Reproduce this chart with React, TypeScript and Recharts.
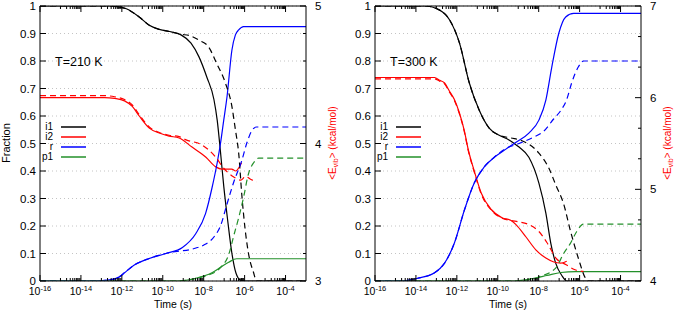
import React from 'react';
import { LineChart, Line, XAxis, YAxis, CartesianGrid, Legend, Customized } from 'recharts';

type P = [number, number];

const FONT = '"Liberation Sans", Arial, Helvetica, sans-serif';

// x values are log10(time / s)
const timeDomain: [number, number] = [-16, -3];
const timeMajorTicks = [-16, -14, -12, -10, -8, -6, -4];
const timeMinorMultipliers = [1, 2, 3, 4, 5, 6, 7, 8, 9];
const fractionTicks = [0, 0.1, 0.2, 0.3, 0.4, 0.5, 0.6, 0.7, 0.8, 0.9, 1];
const energyTicks210 = [3, 3.2, 3.4, 3.6, 3.8, 4, 4.2, 4.4, 4.6, 4.8, 5];
const energyTicks300 = [4, 4.3333, 4.6667, 5, 5.3333, 5.6667, 6, 6.3333, 6.6667, 7];
const seriesNames = ['i1', 'i2', 'r', 'p1'];
const seriesColors = ['#000000', '#ff0000', '#0000ff', '#23902a'];

// ---------- T = 210 K ----------
const i1Solid210: P[] = [[-16, 1], [-12.6, 1], [-12.26, 0.998], [-11.78, 0.99], [-11.15, 0.96], [-10.66, 0.93], [-10.17, 0.915], [-9.54, 0.905], [-9.11, 0.895], [-8.62, 0.865], [-8.23, 0.815], [-7.84, 0.74], [-7.5, 0.66], [-7.34, 0.585], [-7.18, 0.47], [-7.02, 0.345], [-6.83, 0.222], [-6.62, 0.1], [-6.42, 0.028], [-6.2, 0.003], [-6.0, 0], [-3, 0]];
const i1Dash210: P[] = [[-16, 1], [-12.6, 1], [-12.26, 0.998], [-11.78, 0.99], [-11.15, 0.96], [-10.66, 0.93], [-10.17, 0.915], [-9.54, 0.905], [-9.11, 0.897], [-8.72, 0.893], [-8.23, 0.876], [-7.75, 0.85], [-7.36, 0.79], [-6.94, 0.72], [-6.62, 0.634], [-6.45, 0.55], [-6.29, 0.465], [-6.13, 0.307], [-5.97, 0.185], [-5.81, 0.1], [-5.56, 0.03], [-5.42, 0], [-3, 0]];
const rSolid210: P[] = [[-16, 0], [-13.3, 0], [-12.6, 0.004], [-12.12, 0.015], [-11.87, 0.03], [-11.39, 0.058], [-10.66, 0.082], [-9.85, 0.1], [-9.04, 0.122], [-8.39, 0.172], [-7.91, 0.245], [-7.59, 0.34], [-7.34, 0.43], [-7.18, 0.5], [-7.02, 0.585], [-6.86, 0.67], [-6.62, 0.84], [-6.45, 0.895], [-6.29, 0.913], [-6.05, 0.925], [-3, 0.925]];
const rDash210: P[] = [[-16, 0], [-13.3, 0], [-12.6, 0.004], [-12.12, 0.015], [-11.87, 0.03], [-11.39, 0.058], [-10.66, 0.082], [-9.85, 0.1], [-9.3, 0.108], [-8.72, 0.113], [-8.38, 0.12], [-7.99, 0.131], [-7.5, 0.16], [-7.18, 0.2], [-6.86, 0.28], [-6.53, 0.36], [-6.13, 0.44], [-5.9, 0.5], [-5.66, 0.545], [-5.42, 0.56], [-3, 0.56]];
const p1Solid210: P[] = [[-16, 0], [-9.3, 0], [-8.38, 0.01], [-7.6, 0.03], [-7.17, 0.05], [-6.78, 0.068], [-6.39, 0.081], [-3, 0.081]];
const p1Dash210: P[] = [[-16, 0], [-9.3, 0], [-8.23, 0.012], [-7.75, 0.022], [-7.17, 0.05], [-6.78, 0.095], [-6.53, 0.165], [-6.29, 0.23], [-6.05, 0.305], [-5.81, 0.39], [-5.56, 0.43], [-5.32, 0.447], [-3, 0.447]];
const eSolid210: P[] = [[-16, 4.334], [-12.84, 4.334], [-12.36, 4.328], [-11.87, 4.31], [-11.49, 4.27], [-11.15, 4.2], [-10.66, 4.112], [-10.17, 4.076], [-9.69, 4.054], [-9.2, 4.04], [-8.57, 3.974], [-7.89, 3.9], [-7.41, 3.83], [-7.12, 3.814], [-6.63, 3.814], [-6.44, 3.8], [-6.15, 3.86]];
const eDash210: P[] = [[-16, 4.348], [-12.84, 4.348], [-12.36, 4.34], [-11.87, 4.32], [-11.49, 4.28], [-11.15, 4.21], [-10.66, 4.12], [-10.17, 4.08], [-9.69, 4.06], [-9.2, 4.05], [-8.86, 4.026], [-8.09, 3.99], [-7.41, 3.9], [-7.02, 3.82], [-6.53, 3.756], [-6.19, 3.734], [-5.95, 3.76], [-5.71, 3.74], [-5.42, 3.72]];

// ---------- T = 300 K ----------
const i1Solid300: P[] = [[-16, 1], [-13.57, 1], [-12.84, 0.985], [-12.36, 0.95], [-11.87, 0.865], [-11.39, 0.72], [-10.9, 0.62], [-10.42, 0.556], [-9.93, 0.53], [-9.45, 0.513], [-9.2, 0.5], [-8.96, 0.487], [-8.48, 0.45], [-7.99, 0.356], [-7.65, 0.247], [-7.41, 0.138], [-7.17, 0.065], [-6.87, 0.02], [-6.63, 0], [-3, 0]];
const i1Dash300: P[] = [[-16, 1], [-13.57, 1], [-12.84, 0.985], [-12.36, 0.95], [-11.87, 0.865], [-11.39, 0.72], [-10.9, 0.62], [-10.42, 0.556], [-9.93, 0.53], [-9.35, 0.52], [-8.82, 0.51], [-7.99, 0.465], [-7.5, 0.41], [-7.17, 0.35], [-6.78, 0.28], [-6.44, 0.18], [-6.05, 0.08], [-5.71, 0.01], [-5.56, 0], [-3, 0]];
const rSolid300: P[] = [[-16, 0], [-14.69, 0], [-13.91, 0.01], [-13.09, 0.03], [-12.6, 0.065], [-12.12, 0.138], [-11.63, 0.258], [-11.15, 0.356], [-10.66, 0.415], [-10.17, 0.45], [-9.69, 0.475], [-9.2, 0.5], [-8.48, 0.538], [-7.99, 0.585], [-7.65, 0.658], [-7.36, 0.778], [-7.02, 0.9], [-6.68, 0.96], [-6.29, 0.973], [-3, 0.973]];
const rDash300: P[] = [[-16, 0], [-14.69, 0], [-13.91, 0.01], [-13.09, 0.03], [-12.6, 0.065], [-12.12, 0.138], [-11.63, 0.258], [-11.15, 0.356], [-10.66, 0.415], [-10.17, 0.45], [-9.59, 0.482], [-8.96, 0.5], [-8.33, 0.52], [-7.75, 0.545], [-7.26, 0.59], [-6.92, 0.62], [-6.63, 0.66], [-6.39, 0.72], [-6.05, 0.78], [-5.81, 0.8], [-3, 0.8]];
const p1Solid300: P[] = [[-16, 0], [-9.2, 0], [-8.23, 0.01], [-7.6, 0.02], [-6.92, 0.031], [-6.19, 0.034], [-3, 0.034]];
const p1Dash300: P[] = [[-16, 0], [-9.2, 0], [-8.23, 0.008], [-7.99, 0.015], [-7.17, 0.047], [-6.78, 0.1], [-6.45, 0.137], [-6.14, 0.18], [-5.81, 0.207], [-3, 0.207]];
const eSolid300: P[] = [[-16, 6.22], [-13.09, 6.22], [-12.84, 6.19], [-12.6, 6.16], [-12.36, 6.07], [-12.12, 5.98], [-11.87, 5.83], [-11.63, 5.635], [-11.45, 5.44], [-11.15, 5.2], [-10.81, 4.96], [-10.32, 4.78], [-9.79, 4.69], [-9.35, 4.66], [-9.11, 4.615], [-8.62, 4.48], [-8.14, 4.34], [-7.65, 4.25], [-7.26, 4.207], [-6.92, 4.195], [-6.63, 4.216]];
const eDash300: P[] = [[-16, 6.205], [-13.09, 6.205], [-12.84, 6.18], [-12.6, 6.15], [-12.36, 6.06], [-12.12, 5.97], [-11.87, 5.82], [-11.63, 5.625], [-11.45, 5.43], [-11.15, 5.19], [-10.81, 4.95], [-10.32, 4.775], [-9.79, 4.685], [-9.35, 4.66], [-8.96, 4.645], [-8.48, 4.615], [-7.99, 4.54], [-7.6, 4.42], [-7.12, 4.24], [-6.68, 4.18], [-6.19, 4.12], [-5.81, 4.105]];

const isInt = (v: number) => Math.abs(v - Math.round(v)) < 1e-6;
const toRows = (pts: P[]) => pts.map(([t, v]) => ({ t, v }));

const timeTicks: number[] = [];
timeMajorTicks.forEach((m) => {
  timeTicks.push(m);
  timeMinorMultipliers.forEach((k) => {
    const pos = m + 1 + Math.log10(k);
    if (pos < timeDomain[1] - 1e-6) timeTicks.push(pos);
  });
});

const isMajorTime = (v: number) => isInt(v) && Math.round(v) % 2 === 0;

const BottomTick = (props: any) => {
  const { x, y, payload } = props;
  const v = payload.value;
  const major = isMajorTime(v);
  return (
    <g>
      <line x1={x} x2={x} y1={y} y2={y - (major ? 6 : 3)} stroke="#000" strokeWidth={1} />
      {major && (
        <text x={x} y={y + 14} textAnchor="middle" fontFamily={FONT} fontSize={10.5} fill="#000">
          10<tspan fontSize={7.5} dy={-4.5}>{String(Math.round(v))}</tspan>
        </text>
      )}
    </g>
  );
};

const TopTick = (props: any) => {
  const { x, y, payload } = props;
  const major = isMajorTime(payload.value);
  return <line x1={x} x2={x} y1={y} y2={y + (major ? 6 : 3)} stroke="#000" strokeWidth={1} />;
};

const LeftTick = (props: any) => {
  const { x, y, payload } = props;
  const v = payload.value;
  return (
    <g>
      <line x1={x} x2={x + 6} y1={y} y2={y} stroke="#000" strokeWidth={1} />
      <text x={x - 4} y={y} dy="0.36em" textAnchor="end" fontFamily={FONT} fontSize={11.5} fill="#000">
        {String(v)}
      </text>
    </g>
  );
};

const RightTick = (props: any) => {
  const { x, y, payload } = props;
  const v = payload.value;
  const major = isInt(v);
  return (
    <g>
      <line x1={x} x2={x - (major ? 6 : 3)} y1={y} y2={y} stroke="#000" strokeWidth={1} />
      {major && (
        <text x={x + 9} y={y} dy="0.36em" textAnchor="start" fontFamily={FONT} fontSize={11.5} fill="#000">
          {String(Math.round(v))}
        </text>
      )}
    </g>
  );
};

const LegendBox = () => (
  <svg width={60} height={44} style={{ display: 'block', overflow: 'visible' }}>
    {seriesNames.map((n, i) => (
      <g key={n}>
        <text x={13} y={7 + i * 10} dy="0.34em" textAnchor="end" fontFamily={FONT} fontSize={10} fill="#000">
          {n}
        </text>
        <line x1={21} x2={46} y1={7 + i * 10} y2={7 + i * 10} stroke={seriesColors[i]} strokeWidth={1.5} />
      </g>
    ))}
  </svg>
);

type PanelProps = {
  tempLabel: string;
  showFraction: boolean;
  energyDomain: [number, number];
  energyTicks: number[];
  i1Solid: P[]; i1Dash: P[];
  eSolid: P[]; eDash: P[];
  rSolid: P[]; rDash: P[];
  p1Solid: P[]; p1Dash: P[];
};

const W = 340;
const H = 312;

const Panel = (p: PanelProps) => {
  const solid = [
    { d: p.i1Solid, c: seriesColors[0], y: 'frac' },
    { d: p.eSolid, c: seriesColors[1], y: 'e' },
    { d: p.rSolid, c: seriesColors[2], y: 'frac' },
    { d: p.p1Solid, c: seriesColors[3], y: 'frac' },
  ];
  const dashed = [
    { d: p.i1Dash, c: seriesColors[0], y: 'frac' },
    { d: p.eDash, c: seriesColors[1], y: 'e' },
    { d: p.rDash, c: seriesColors[2], y: 'frac' },
    { d: p.p1Dash, c: seriesColors[3], y: 'frac' },
  ];
  const Annot = () => (
    <g fontFamily={FONT}>
      <text x={55} y={66} fontSize={12.5} fill="#000">{p.tempLabel}</text>
      {p.showFraction && (
        <text x={9.5} y={143} transform="rotate(-90 9.5 143)" textAnchor="middle" fontSize={11} fill="#000">Fraction</text>
      )}
      <text x={173} y={308} textAnchor="middle" fontSize={10.5} fill="#000">Time (s)</text>
      <text x={336} y={143} transform="rotate(-90 336 143)" textAnchor="middle" fontSize={10} fill="#ff0000">
        &lt;E<tspan fontSize={7} dy={2}>vib</tspan><tspan dy={-2}>&gt; (kcal/mol)</tspan>
      </text>
    </g>
  );
  return (
    <LineChart width={W} height={H} margin={{ top: 0, right: 0, bottom: 0, left: 0 }}>
      <CartesianGrid vertical={false} xAxisId="bottom" yAxisId="frac" stroke="#c4c4c4" strokeDasharray="1 3" />
      <XAxis xAxisId="bottom" dataKey="t" type="number" domain={timeDomain} allowDataOverflow ticks={timeTicks} interval={0}
        tick={BottomTick} tickSize={0} tickMargin={0} tickLine={false} axisLine={{ stroke: '#000' }} height={31} orientation="bottom" />
      <XAxis xAxisId="top" dataKey="t" type="number" domain={timeDomain} allowDataOverflow ticks={timeTicks} interval={0}
        tick={TopTick} tickSize={0} tickMargin={0} tickLine={false} axisLine={{ stroke: '#000' }} height={6} orientation="top" />
      <YAxis yAxisId="frac" type="number" domain={[0, 1]} allowDataOverflow ticks={fractionTicks} interval={0}
        tick={LeftTick} tickSize={0} tickMargin={0} tickLine={false} axisLine={{ stroke: '#000' }} width={40} orientation="left" />
      <YAxis yAxisId="e" type="number" domain={p.energyDomain} allowDataOverflow ticks={p.energyTicks} interval={0}
        tick={RightTick} tickSize={0} tickMargin={0} tickLine={false} axisLine={{ stroke: '#000' }} width={34} orientation="right" />
      {solid.map((s, i) => (
        <Line key={'s' + i} data={toRows(s.d)} dataKey="v" xAxisId="bottom" yAxisId={s.y} type="monotone"
          stroke={s.c} strokeWidth={1.2} dot={false} activeDot={false} isAnimationActive={false} />
      ))}
      {dashed.map((s, i) => (
        <Line key={'d' + i} data={toRows(s.d)} dataKey="v" xAxisId="bottom" yAxisId={s.y} type="monotone"
          stroke={s.c} strokeWidth={1.2} strokeDasharray="6 4" dot={false} activeDot={false} isAnimationActive={false} />
      ))}
      <Legend verticalAlign="middle" align="center" content={LegendBox}
        wrapperStyle={{ left: 40, top: 120, width: 60, height: 44 }} />
      <Customized component={Annot} />
    </LineChart>
  );
};

export default function App() {
  return (
    <div style={{ position: 'absolute', left: 0, top: 0, width: 675, height: 312, background: '#fff' }}>
      <div style={{ position: 'absolute', left: 0, top: 0 }}>
        <Panel tempLabel="T=210 K" showFraction energyDomain={[3, 5]} energyTicks={energyTicks210}
          i1Solid={i1Solid210} i1Dash={i1Dash210} eSolid={eSolid210} eDash={eDash210}
          rSolid={rSolid210} rDash={rDash210} p1Solid={p1Solid210} p1Dash={p1Dash210} />
      </div>
      <div style={{ position: 'absolute', left: 335, top: 0 }}>
        <Panel tempLabel="T=300 K" showFraction={false} energyDomain={[4, 7]} energyTicks={energyTicks300}
          i1Solid={i1Solid300} i1Dash={i1Dash300} eSolid={eSolid300} eDash={eDash300}
          rSolid={rSolid300} rDash={rDash300} p1Solid={p1Solid300} p1Dash={p1Dash300} />
      </div>
    </div>
  );
}
